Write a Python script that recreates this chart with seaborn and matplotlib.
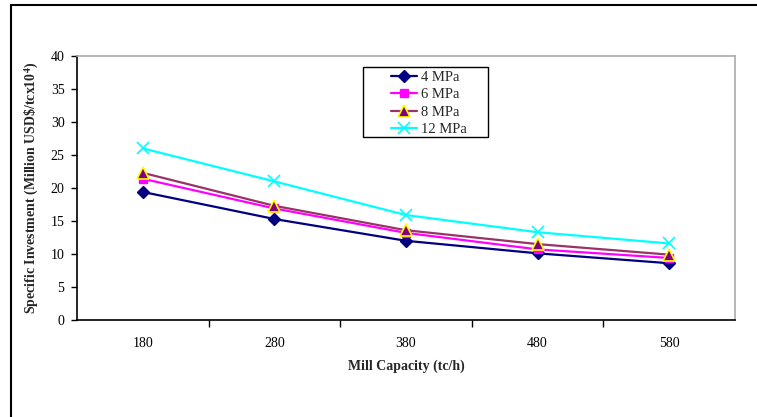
import matplotlib
matplotlib.use("Agg")
import matplotlib.pyplot as plt
import seaborn as sns
import pandas as pd
from matplotlib.lines import Line2D
from matplotlib.patches import Rectangle

capacity = ["180", "280", "380", "480", "580"]
mpa4 = [19.4, 15.3, 12.0, 10.1, 8.6]
mpa6 = [21.4, 16.9, 13.2, 10.7, 9.4]
mpa8 = [22.3, 17.3, 13.6, 11.5, 9.9]
mpa12 = [26.0, 21.0, 15.9, 13.3, 11.6]
series_names = ["4 MPa", "6 MPa", "8 MPa", "12 MPa"]

sns.set_style("white")
plt.rcParams["font.family"] = ["Liberation Serif", "DejaVu Serif"]
plt.rcParams["mathtext.fontset"] = "stix"

fig = plt.figure(figsize=(7.57, 4.17), dpi=100)
W, H = 757, 417
ax = fig.add_axes([77 / W, (H - 320) / H, (735 - 77) / W, (320 - 56) / H])

styles = {
    "4 MPa": dict(color="#000080", marker="D", mfc="#000080", mec="#000080", ms=6, mew=1),
    "6 MPa": dict(color="#FF00FF", marker="s", mfc="#FF00FF", mec="#FF00FF", ms=6, mew=1),
    "8 MPa": dict(color="#993366", marker="^", mfc="#800080", mec="#FFFF00", ms=8, mew=1.2),
    "12 MPa": dict(color="#00FFFF", marker="x", mfc="#00FFFF", mec="#00FFFF", ms=9, mew=1.2),
}
data = {"4 MPa": mpa4, "6 MPa": mpa6, "8 MPa": mpa8, "12 MPa": mpa12}

xs = list(range(len(capacity)))
handles = []
for name in series_names:
    st = styles[name]
    df = pd.DataFrame({"x": xs, "y": data[name]})
    sns.lineplot(data=df, x="x", y="y", ax=ax, color=st["color"], lw=1.6,
                 marker=st["marker"], markersize=st["ms"], markerfacecolor=st["mfc"],
                 markeredgecolor=st["mec"], markeredgewidth=st["mew"], legend=False)
    handles.append(Line2D([], [], color=st["color"], lw=1.6, marker=st["marker"],
                          markersize=st["ms"], markerfacecolor=st["mfc"],
                          markeredgecolor=st["mec"], markeredgewidth=st["mew"]))

ax.set_xlim(-0.5, len(capacity) - 0.5)
ax.set_ylim(0, 40)
ax.set_yticks(range(0, 41, 5))
ax.set_xticks(xs)
ax.set_xticklabels(capacity)
ax.set_xticks([i + 0.5 for i in range(len(capacity) - 1)], minor=True)
ax.tick_params(axis="x", which="major", length=0, pad=12, labelsize=10, colors="black")
ax.tick_params(axis="x", which="minor", length=5, width=1, direction="out", bottom=True, color="black")
ax.tick_params(axis="y", which="major", length=4, width=1, direction="out", left=True, pad=5,
               labelsize=10, colors="black")

for side in ["left", "bottom"]:
    ax.spines[side].set_color("black")
    ax.spines[side].set_linewidth(1.2)
for side in ["top", "right"]:
    ax.spines[side].set_color("#aaaaaa")
    ax.spines[side].set_linewidth(1.2)

ax.set_ylabel(r"Specific Investment (Million USD\$/tcx10$^{\mathbf{4}}$)", fontsize=10,
              fontweight="bold", labelpad=7)
ax.set_xlabel("Mill Capacity (tc/h)", fontsize=10, fontweight="bold", labelpad=7)

# legend box (Excel-style, contents centred)
x0 = (363 - 77) / 658
x1 = (488 - 77) / 658
y0 = (320 - 137) / 264
y1 = (320 - 67) / 264
ax.add_patch(Rectangle((x0, y0), x1 - x0, y1 - y0, transform=ax.transAxes,
                       facecolor="white", edgecolor="black", lw=1.0, zorder=5))
leg = ax.legend(handles, series_names, loc="upper left",
                bbox_to_anchor=((391 - 77) / 658, (320 - 71) / 264),
                frameon=False, fontsize=10.5, handlelength=1.8,
                borderpad=0, borderaxespad=0, labelspacing=0.28, handletextpad=0.25)
leg.set_zorder(6)

fig.add_artist(Line2D([11 / W, 11 / W], [0, 1 - 5 / H], transform=fig.transFigure, color="black", lw=1.5))
fig.add_artist(Line2D([11 / W, 1], [1 - 5 / H, 1 - 5 / H], transform=fig.transFigure, color="black", lw=1.5))

fig.savefig("out.png", dpi=100)
